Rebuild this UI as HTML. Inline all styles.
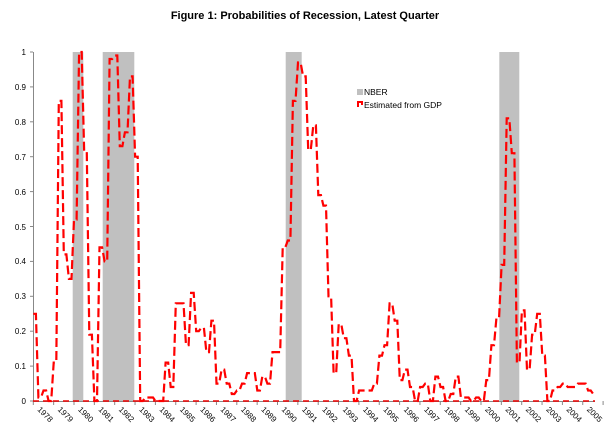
<!DOCTYPE html>
<html><head><meta charset="utf-8"><style>
html,body{margin:0;padding:0;background:#fff;}
svg{display:block;font-family:"Liberation Sans",sans-serif;}
</style></head><body>
<svg id="s" width="610" height="441" viewBox="0 0 610 441">
<text x="305" y="19" text-anchor="middle" font-size="11" font-weight="bold">Figure 1: Probabilities of Recession, Latest Quarter</text>
<g fill="#c0c0c0">
<rect x="72.7" y="52" width="10.6" height="349"/>
<rect x="102.7" y="52" width="31.6" height="349"/>
<rect x="285.7" y="52" width="16" height="349"/>
<rect x="499.3" y="52" width="20" height="349"/>
</g>
<g stroke="#888" stroke-width="1" fill="none">
<line x1="33.5" y1="52" x2="33.5" y2="401"/>
<line x1="33" y1="401.5" x2="595" y2="401.5"/>
</g>
<g id="yt" stroke="#888"></g>
<g font-size="8" text-anchor="end" fill="#000">
<text x="26" y="404">0</text><text x="26" y="369">0.1</text><text x="26" y="334">0.2</text><text x="26" y="299">0.3</text><text x="26" y="264">0.4</text><text x="26" y="230">0.5</text><text x="26" y="195">0.6</text><text x="26" y="160">0.7</text><text x="26" y="125">0.8</text><text x="26" y="90">0.9</text><text x="26" y="55">1</text>
</g>
<line x1="33" y1="401" x2="595" y2="401" stroke="#e00" stroke-width="1.5" stroke-dasharray="6,4"/>
<path id="p" fill="none" stroke="#ff0000" stroke-width="2.2" stroke-dasharray="9,4"/>
<g font-size="8" fill="#000">
<text transform="translate(37,410) rotate(45)">1978</text>
<text transform="translate(57.3,410) rotate(45)">1979</text>
<text transform="translate(77.6,410) rotate(45)">1980</text>
<text transform="translate(98,410) rotate(45)">1981</text>
<text transform="translate(118.3,410) rotate(45)">1982</text>
<text transform="translate(138.7,410) rotate(45)">1983</text>
<text transform="translate(159,410) rotate(45)">1984</text>
<text transform="translate(179.4,410) rotate(45)">1985</text>
<text transform="translate(199.7,410) rotate(45)">1986</text>
<text transform="translate(220,410) rotate(45)">1987</text>
<text transform="translate(240.4,410) rotate(45)">1988</text>
<text transform="translate(260.8,410) rotate(45)">1989</text>
<text transform="translate(281.1,410) rotate(45)">1990</text>
<text transform="translate(301.5,410) rotate(45)">1991</text>
<text transform="translate(321.8,410) rotate(45)">1992</text>
<text transform="translate(342.2,410) rotate(45)">1993</text>
<text transform="translate(362.5,410) rotate(45)">1994</text>
<text transform="translate(382.9,410) rotate(45)">1995</text>
<text transform="translate(403.2,410) rotate(45)">1996</text>
<text transform="translate(423.6,410) rotate(45)">1997</text>
<text transform="translate(443.9,410) rotate(45)">1998</text>
<text transform="translate(464.3,410) rotate(45)">1999</text>
<text transform="translate(484.6,410) rotate(45)">2000</text>
<text transform="translate(505,410) rotate(45)">2001</text>
<text transform="translate(525.3,410) rotate(45)">2002</text>
<text transform="translate(545.7,410) rotate(45)">2003</text>
<text transform="translate(566,410) rotate(45)">2004</text>
<text transform="translate(586.4,410) rotate(45)">2005</text>
</g>
<rect x="357" y="89" width="6" height="6" fill="#c0c0c0"/>
<text x="364" y="95" font-size="8.5">NBER</text>
<path d="M358,107 V102 H362 V105" fill="none" stroke="#f00" stroke-width="2"/>
<text x="364" y="108" font-size="8.5">Estimated from GDP</text>
</svg>
<script>
var v=[0.25,0.01,0.03,0,0.11,0.86,0.42,0.35,0.52,1.0,0.71,0.19,0,0.44,0.40,0.98,0.99,0.73,0.77,0.93,0.70,0,0.01,0.01,0,0,0.11,0.04,0.28,0.28,0.16,0.31,0.20,0.21,0.14,0.23,0.05,0.09,0.05,0.02,0.03,0.05,0.08,0.08,0.03,0.07,0.05,0.14,0.14,0.44,0.46,0.86,0.97,0.93,0.72,0.79,0.59,0.56,0.30,0.08,0.22,0.18,0.13,0,0.03,0.03,0.03,0.05,0.13,0.16,0.28,0.23,0.06,0.09,0.04,0,0.04,0.05,0,0.07,0.04,0,0.02,0.07,0.01,0.01,0,0.01,0,0.06,0.16,0.24,0.39,0.81,0.71,0.11,0.26,0.09,0.19,0.25,0.13,0,0.03,0.04,0.05,0.04,0.04,0.05,0.05,0.03,0.02];
var d="";
for(var i=0;i<v.length;i++){var x=33.3+5.09*i,y=401-v[i]*349;d+=(i?"L":"M")+x.toFixed(1)+","+y.toFixed(1)+"L"+(x+2.6).toFixed(1)+","+y.toFixed(1);}
document.getElementById("p").setAttribute("d",d);
var g=document.getElementById("yt"),h="";
for(var k=0;k<=10;k++){var yy=401-k*34.9;h+='<line x1="30" x2="33" y1="'+yy+'" y2="'+yy+'"/>';}
for(var k=0;k<=28;k++){var xx=33.3+20.35*k;h+='<line x1="'+xx+'" x2="'+xx+'" y1="401" y2="405"/>';}
g.innerHTML=h;
</script>
</body></html>
